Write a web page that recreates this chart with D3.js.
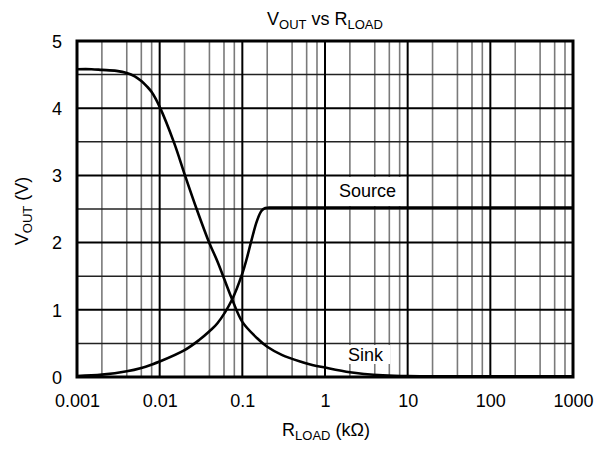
<!DOCTYPE html>
<html>
<head>
<meta charset="utf-8">
<script src="https://cdn.jsdelivr.net/npm/d3@7"></script>
<style>
  html, body { margin: 0; padding: 0; background: #fff; }
  text { font-family: Arial, "Liberation Sans", sans-serif; fill: #000; }
</style>
</head>
<body>
<svg id="chart" width="599" height="449"></svg>
<script>
// Load resistance in kΩ (log axis) and output voltage in volts
const sinkR = [0.001, 0.0015, 0.002, 0.003, 0.004, 0.005, 0.006, 0.007, 0.008, 0.01, 0.015, 0.02, 0.028, 0.04, 0.05, 0.075, 0.1, 0.15, 0.2, 0.3, 0.5, 0.7, 1, 2, 3, 5, 10, 100, 1000];
const sinkV = [4.58, 4.58, 4.57, 4.555, 4.525, 4.475, 4.405, 4.325, 4.24, 4.02, 3.48, 3.02, 2.50, 1.99, 1.72, 1.16, 0.82, 0.58, 0.45, 0.33, 0.23, 0.18, 0.14, 0.07, 0.045, 0.025, 0.013, 0.01, 0.01];

const sourceR = [0.001, 0.002, 0.004, 0.006, 0.008, 0.01, 0.02, 0.03, 0.04, 0.05, 0.075, 0.1, 0.113, 0.13, 0.15, 0.17, 0.19, 0.21, 0.3, 1, 10, 100, 1000];
const sourceV = [0.015, 0.035, 0.085, 0.135, 0.185, 0.23, 0.40, 0.55, 0.68, 0.80, 1.15, 1.54, 1.76, 2.05, 2.32, 2.47, 2.515, 2.52, 2.52, 2.52, 2.52, 2.52, 2.52];

const xTicks = [0.001, 0.01, 0.1, 1, 10, 100, 1000];
const xTickLabels = ["0.001", "0.01", "0.1", "1", "10", "100", "1000"];
const yTicks = [0, 1, 2, 3, 4, 5];

const svg = d3.select("#chart");
const plotLeft = 77, plotRight = 573, plotTop = 41, plotBottom = 377;

const x = d3.scaleLog().domain([0.001, 1000]).range([plotLeft, plotRight]);
const y = d3.scaleLinear().domain([0, 5]).range([plotBottom, plotTop]);

const grid = svg.append("g");

// minor vertical lines at 2,4,6,8 within each decade
const minors = [];
xTicks.slice(0, -1).forEach(d => [2, 4, 6, 8].forEach(m => minors.push(d * m)));
grid.selectAll(".vminor").data(minors).enter().append("line")
  .attr("x1", d => x(d)).attr("x2", d => x(d))
  .attr("y1", plotTop).attr("y2", plotBottom)
  .attr("stroke", "#7a7a7a").attr("stroke-width", 1.6);

// horizontal lines every 0.5 V
const hLines = d3.range(0.5, 5, 0.5);
grid.selectAll(".h").data(hLines).enter().append("line")
  .attr("x1", plotLeft).attr("x2", plotRight)
  .attr("y1", d => y(d)).attr("y2", d => y(d))
  .attr("stroke", d => Number.isInteger(d) ? "#000" : "#222")
  .attr("stroke-width", d => Number.isInteger(d) ? 2 : 1.5);

// decade lines
grid.selectAll(".vmajor").data(xTicks.slice(1, -1)).enter().append("line")
  .attr("x1", d => x(d)).attr("x2", d => x(d))
  .attr("y1", plotTop).attr("y2", plotBottom)
  .attr("stroke", "#000").attr("stroke-width", 2);

// label boxes
svg.append("rect").attr("x", 333).attr("y", 177).attr("width", 68).attr("height", 29).attr("fill", "#fff");
svg.append("rect").attr("x", 343).attr("y", 345).attr("width", 47).attr("height", 19).attr("fill", "#fff");
svg.append("text").attr("x", 367.5).attr("y", 197).attr("text-anchor", "middle")
  .attr("font-size", 18).text("Source");
svg.append("text").attr("x", 365.5).attr("y", 361).attr("text-anchor", "middle")
  .attr("font-size", 18).text("Sink");

// curves
const line = d3.line().curve(d3.curveCatmullRom.alpha(0.5));
const sinkPts = sinkR.map((r, i) => [x(r), y(sinkV[i])]);
const sourcePts = sourceR.map((r, i) => [x(r), y(sourceV[i])]);
svg.append("path").attr("d", line(sinkPts)).attr("fill", "none")
  .attr("stroke", "#000").attr("stroke-width", 2.6);
svg.append("path").attr("d", line(sourcePts)).attr("fill", "none")
  .attr("stroke", "#000").attr("stroke-width", 2.6);

// frame
svg.append("rect").attr("x", plotLeft).attr("y", plotTop)
  .attr("width", plotRight - plotLeft).attr("height", plotBottom - plotTop)
  .attr("fill", "none").attr("stroke", "#000").attr("stroke-width", 3);

// axes (labels only)
const xAxis = d3.axisBottom(x).tickValues(xTicks).tickSize(0)
  .tickFormat((d, i) => xTickLabels[i]);
const gx = svg.append("g").attr("transform", `translate(0,${plotBottom})`).call(xAxis);
gx.select(".domain").remove();
gx.selectAll("text").attr("font-size", 18)
  .attr("y", 30).attr("dy", null).attr("fill", "#000");
gx.attr("font-family", null).attr("font-size", null);

const yAxis = d3.axisLeft(y).tickValues(yTicks).tickSize(0).tickFormat(d3.format("d"));
const gy = svg.append("g").attr("transform", `translate(${plotLeft},0)`).call(yAxis);
gy.select(".domain").remove();
gy.selectAll("text").attr("font-size", 18)
  .attr("x", -15).attr("dy", "0.35em").attr("fill", "#000");
gy.attr("font-family", null).attr("font-size", null);

// title
const title = svg.append("text").attr("x", (plotLeft + plotRight) / 2).attr("y", 25)
  .attr("text-anchor", "middle").attr("font-size", 18);
title.append("tspan").text("V");
title.append("tspan").attr("font-size", 13).attr("dy", 4).text("OUT");
title.append("tspan").attr("dy", -4).text(" vs R");
title.append("tspan").attr("font-size", 13).attr("dy", 4).text("LOAD");

// x axis title
const xl = svg.append("text").attr("x", 326).attr("y", 436)
  .attr("text-anchor", "middle").attr("font-size", 18);
xl.append("tspan").text("R");
xl.append("tspan").attr("font-size", 13).attr("dy", 4).text("LOAD");
xl.append("tspan").attr("dy", -4).text(" (kΩ)");

// y axis title
const yl = svg.append("text").attr("transform", "translate(28,211) rotate(-90)")
  .attr("text-anchor", "middle").attr("font-size", 18);
yl.append("tspan").text("V");
yl.append("tspan").attr("font-size", 13).attr("dy", 4).text("OUT");
yl.append("tspan").attr("dy", -4).text(" (V)");
</script>
</body>
</html>
